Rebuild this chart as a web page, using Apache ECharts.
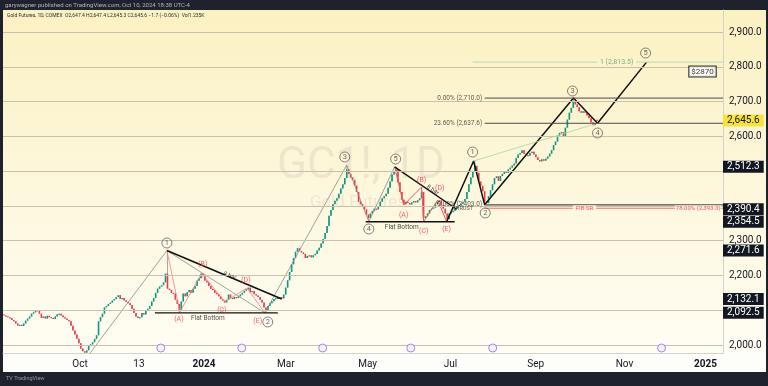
<!DOCTYPE html>
<html><head><meta charset="utf-8">
<script src="https://cdn.jsdelivr.net/npm/echarts@6/dist/echarts.min.js"></script>
<style>html,body{margin:0;padding:0;background:#1e222d;}#c{width:768px;height:386px;}</style>
</head><body><div id="c"></div>
<script>
// ---- data (bar index on x, price on y) ----
const closes = [
2088,2085,2083,2080,2078,2072,2068,2062,2056,2058,
2055,2062,2070,2076,2082,2090,2094,2100,2098,2090,
2078,2082,2076,2084,2080,2078,2075,2082,2088,2090,
2085,2080,2076,2072,2068,2055,2042,2030,2018,2005,
1990,1982,1978,1985,1998,2002,2008,2018,2028,2068,
2080,2090,2108,2112,2118,2122,2128,2132,2138,2143,
2132,2135,2128,2124,2120,2115,2104,2092,2082,2078,
2080,2092,2088,2098,2104,2112,2125,2135,2150,2162,
2168,2172,2180,2205,2162,2158,2150,2148,2130,2118,
2100,2125,2148,2140,2152,2158,2150,2162,2170,2185,
2192,2205,2198,2185,2180,2170,2162,2158,2150,2146,
2140,2132,2128,2122,2130,2145,2136,2132,2138,2135,
2140,2145,2150,2156,2160,2165,2152,2155,2146,2142,
2138,2130,2122,2108,2098,2112,2120,2126,2132,2135,
2136,2138,2134,2145,2165,2186,2210,2232,2250,2268,
2278,2270,2266,2262,2250,2256,2258,2252,2258,2262,
2272,2280,2292,2305,2322,2342,2372,2388,2405,2415,
2422,2435,2450,2462,2480,2505,2492,2482,2475,2458,
2440,2412,2405,2398,2390,2375,2365,2378,2385,2392,
2390,2398,2412,2422,2428,2435,2452,2470,2490,2500,
2505,2468,2440,2418,2405,2412,2408,2404,2410,2414,
2410,2416,2422,2440,2365,2370,2378,2388,2392,2395,
2405,2412,2416,2402,2392,2378,2362,2378,2382,2386,
2392,2398,2402,2406,2412,2420,2440,2462,2482,2500,
2515,2495,2470,2458,2442,2412,2408,2428,2445,2462,
2480,2485,2472,2486,2492,2500,2495,2505,2510,2516,
2522,2538,2548,2552,2560,2550,2546,2544,2552,2556,
2548,2540,2532,2528,2534,2530,2536,2542,2550,2560,
2575,2585,2602,2610,2612,2600,2625,2648,2668,2682,
2700,2692,2684,2672,2668,2672,2668,2660,2652,2640,
2632,2638,2645.6];
const spikeHighs = {84:2271.6, 175:2518, 200:2512.3, 213:2454, 240:2531, 290:2710};
const spikeLows = {42:1972, 90:2094, 134:2092.5, 186:2354.5, 214:2354.5, 226:2354.5, 245:2403};
const lastOpen = 2647.4;

const xTickPos = [39.6, 69.5, 102.5, 144.1, 185.6, 227.7, 270.9, 316.0, 357.1];
const xTickLabels = ['Oct','13','2024','Mar','May','Jul','Sep','Nov','2025'];
const xBold = ['2024','2025'];
const yGrid = [2000,2100,2200,2300,2400,2500,2600,2700,2800,2900];
const yLabels = [2000,2200,2300,2600,2700,2800,2900];
const blackPriceTags = [2512.3, 2390.4, 2354.5, 2271.6, 2132.1, 2092.5];
const lastPrice = 2645.6;

// drawings
const wave1Grey = [[43.6,1968.4],[83.7,2271.6]];
const channelGrey = [[83.7,2271.6],[133.4,2092.5]];
const waveUpGrey = [[133.4,2092.5],[175.0,2517.6],[186.2,2354.5],[199.3,2512.3]];
const triARed = [[83.7,2271.6],[90.3,2094.9],[101.4,2207],[113.1,2123.7],[124.3,2163.9],[133.4,2092.5]];
const triBRed = [[199.3,2512.3],[203.9,2402.6],[213.0,2454.3],[214.0,2354.5],[221.2,2417],[225.7,2354.5]];
const trendA = [[83.7,2271.6],[142.0,2132.1]];
const trendB = [[199.3,2512.3],[230.8,2390.4]];
const flatA = [[77.6,2092.5],[140.0,2092.5]];
const flatB = [[184.6,2354.5],[229.8,2354.5]];
const impulse = [[225.7,2354.5],[239.4,2529.1],[245.0,2403],[290.1,2710],[302.3,2637.6],[327.2,2813.5]];
const greenLine = [[239.4,2529.1],[302.3,2637.6]];
const fib0 = [[245,2710],[366,2710]];
const fib236 = [[245,2637.6],[366,2637.6]];
const fibExt = [[238.9,2813.5],[366,2813.5]];
const fib2403 = [[245,2403],[366,2403]];
const fibSR = [[245,2393.3],[366,2393.3]];

const waveCircles = [
 [83.7,2293.3,'1'],[134.9,2066.2,'2'],[174.0,2540.6,'3'],[186.2,2333.6,'4'],[199.8,2534.8,'5'],
 [238.9,2554.9,'1'],[245.3,2379.6,'2'],[289.6,2730.4,'3'],[302.3,2609.6,'4'],[326.7,2839.6,'5']];
const abcLabels = [
 [89.8,2074.8,'(A)'],[101.9,2232.9,'(B)'],[111.6,2100.7,'(C)'],[123.8,2186.9,'(D)'],[129.8,2069.1,'(E)'],
 [203.9,2373.8,'(A)'],[213.0,2474.5,'(B)'],[214.1,2327.8,'(C)'],[222.2,2451.5,'(D)'],[225.7,2333.6,'(E)']];
const eventIcons = [80.6,121.7,162.8,207.5,249.1,334.8];
const eventPrice = 1991.4;

// ---- build ----
const candles = closes.map((c,i)=>{
  let o = i===0 ? c : closes[i-1];
  if (i===closes.length-1) o = lastOpen;
  const h = spikeHighs[i] !== undefined ? spikeHighs[i] : Math.max(o,c);
  const l = spikeLows[i] !== undefined ? spikeLows[i] : Math.min(o,c);
  return [i,o,c,l,h];
});
const UP='#089981', DN='#f23645';
function renderCandle(params, api){
  const i=api.value(0), o=api.value(1), c=api.value(2), l=api.value(3), h=api.value(4);
  const pO=api.coord([i,o]), pC=api.coord([i,c]), pL=api.coord([i,l]), pH=api.coord([i,h]);
  const w=Math.max(1, api.size([1,0])[0]*0.8);
  const top=Math.min(pO[1],pC[1]), bot=Math.max(pO[1],pC[1]);
  const col = c>=o?UP:DN;
  return {type:'group', children:[
    {type:'line', shape:{x1:pO[0],y1:pH[1],x2:pO[0],y2:pL[1]}, style:{stroke:'#a8a8a0',lineWidth:1}},
    {type:'rect', shape:{x:pO[0]-w/2,y:top,width:w,height:Math.max(1.2,bot-top)}, style:{fill:col}}
  ]};
}
function ln(data,color,width,z){return {type:'line',data,symbol:'none',showSymbol:false,silent:true,clip:true,z:z||3,lineStyle:{color,width}};}
const fmtPrice = v => Number(v).toLocaleString('en-US',{minimumFractionDigits:1,maximumFractionDigits:1});

function txt(v,p,text,style){return {value:[v,p],label:Object.assign({show:true,formatter:text,position:'inside'},style)};}
const textItems = [
  txt(104.5,2077.7,'Flat Bottom',{fontSize:6.5,color:'#222'}),
  txt(202.9,2339.3,'Flat Bottom',{fontSize:6.5,color:'#222'}),
  txt(115.6,2198.4,'8 bar',{fontSize:6,color:'#222',rotate:-21}),
  txt(218.6,2445.7,'8 bar',{fontSize:6,color:'#222',rotate:-34}),
  txt(245,2710,'0.00% (2,710.0)',{position:'left',distance:2,fontSize:6.5,color:'#333'}),
  txt(245,2637.6,'23.60% (2,637.6)',{position:'left',distance:2,fontSize:6.5,color:'#333'}),
  txt(245,2403,'0.00% (2,403.0)',{position:'left',distance:2,fontSize:6.5,color:'#333'}),
  txt(233.8,2391,'THRUST',{fontSize:5.5,color:'#333'}),
  txt(312,2813.5,'1 (2,813.5)',{fontSize:7,color:'#5aa05a',backgroundColor:'#fcf5d0',padding:[0,3]}),
  txt(295.7,2393.3,'FIB SR',{fontSize:6,color:'#f23645',backgroundColor:'#fdf8e2',padding:[0,3]}),
  txt(366,2393.3,'78.00% (2,393.3)',{position:'left',distance:1,fontSize:6,color:'#f23645',backgroundColor:'#fdf8e2',padding:[0,1]}),
  txt(355.6,2786.4,'$2870',{fontSize:8,color:'#000',backgroundColor:'#fff',borderColor:'#000',borderWidth:1,padding:[1,2]})
];

function tag(v,bg,fg){return {yAxis:v,label:{show:true,position:'end',distance:0,formatter:fmtPrice(v),
  backgroundColor:bg,color:fg,fontSize:10,padding:[1,4],opacity:1}};}

const chart = echarts.init(document.getElementById('c'), null, {renderer:'canvas'});
chart.setOption({
  animation:false,
  backgroundColor:'#1e222d',
  textStyle:{fontFamily:'Roboto, "Liberation Sans", sans-serif'},
  grid:{left:3,right:45,top:10,bottom:33},
  graphic:[
    {type:'rect',z:-10,silent:true,shape:{x:3,y:10,width:763,height:343},
     style:{fill:new echarts.graphic.LinearGradient(0,0,0,1,[{offset:0,color:'#fbf1c2'},{offset:1,color:'#fffdf4'}])}},
    {type:'rect',z:-10,silent:true,shape:{x:3,y:353,width:763,height:19},style:{fill:'#fdfdfa'}},
    {type:'text',z:-5,silent:true,style:{x:361,y:167,text:'GC1!, 1D',fontSize:44,fontFamily:'Roboto',fill:'rgba(170,170,160,0.2)',align:'center',verticalAlign:'middle'}},
    {type:'text',z:-5,silent:true,style:{x:358,y:203,text:'Gold Futures',fontSize:17,fontFamily:'Roboto',fill:'rgba(170,170,160,0.2)',align:'center',verticalAlign:'middle'}},
    {type:'text',z:20,silent:true,style:{x:5,y:5,text:'garywagner published on TradingView.com, Oct 10, 2024 18:38 UTC-4',fontSize:6,fontFamily:'Roboto',fill:'#b2b5be',verticalAlign:'middle'}},
    {type:'text',z:20,silent:true,style:{x:7,y:16,text:'Gold Futures, 1D, COMEX  O2,647.4 H2,647.4 L2,645.3 C2,645.6 \u22121.7 (\u22120.06%)  Vol1.235K',fontSize:5,fontFamily:'Roboto',fill:'#2a2e39',verticalAlign:'middle'}},
    {type:'text',z:20,silent:true,style:{x:6,y:379,text:'TV TradingView',fontSize:5.5,fontFamily:'Roboto',fill:'#9598a1',verticalAlign:'middle'}}
  ],
  xAxis:{type:'value',min:0.5,max:366,
    axisLine:{show:true,lineStyle:{color:'#d4d4cc'}},axisTick:{show:false},splitLine:{show:false},
    axisLabel:{customValues:xTickPos,margin:6,fontSize:10,color:'#131722',
      formatter:(v)=>{let k=0,b=1e9;xTickPos.forEach((p,j)=>{if(Math.abs(p-v)<b){b=Math.abs(p-v);k=j;}});const t=xTickLabels[k];return xBold.includes(t)?'{b|'+t+'}':t;},
      rich:{b:{fontWeight:'bold',fontSize:10,color:'#131722'}}}},
  yAxis:{type:'value',position:'right',min:1977,max:2963.3,
    axisLine:{show:true,lineStyle:{color:'#d4d4cc'}},axisTick:{show:false},splitLine:{show:false},
    axisLabel:{customValues:yLabels,margin:6,fontSize:10,color:'#131722',formatter:fmtPrice}},
  series:[
    {type:'line',data:[[0,2500]],symbol:'none',lineStyle:{width:0},silent:true,z:1,
     markLine:{silent:true,symbol:'none',animation:false,label:{show:false},
       lineStyle:{color:'#c6c2ad',width:1,type:'solid'},
       data:yGrid.map(v=>({yAxis:v}))}},
    {type:'custom',renderItem:renderCandle,data:candles,clip:true,z:2,encode:{x:0,y:[1,2,3,4]}},
    ln(wave1Grey,'#8a8a88',0.8), ln(channelGrey,'#8a8a88',0.8), ln(waveUpGrey,'#8a8a88',0.8),
    ln(triARed,'#f47c7c',0.8), ln(triBRed,'#f05a5a',1),
    ln(trendA,'#111',1.6), ln(trendB,'#111',1.4), ln(flatA,'#111',1.4), ln(flatB,'#111',1.4),
    ln(impulse,'#111',1.5), ln(greenLine,'#a8d5a0',0.8),
    ln(fib0,'#4a4a4a',1), ln(fib236,'#4a4a4a',1), ln(fibExt,'#b5dbb0',1), ln(fib2403,'#4a4a4a',1.2), ln(fibSR,'#f26d6d',1),
    {type:'scatter',z:5,silent:true,symbol:'circle',symbolSize:10,
     itemStyle:{color:'rgba(255,255,255,0)',borderColor:'#555',borderWidth:0.9},
     label:{show:true,position:'inside',fontSize:7.5,color:'#444',formatter:p=>p.value[2]},
     data:waveCircles},
    {type:'scatter',z:5,silent:true,symbolSize:1,itemStyle:{color:'rgba(0,0,0,0)'},
     label:{show:true,position:'inside',fontSize:7,color:'#f23645',formatter:p=>p.value[2]},
     data:abcLabels},
    {type:'scatter',z:6,silent:true,symbolSize:1,itemStyle:{color:'rgba(0,0,0,0)'},data:textItems},
    {type:'scatter',z:5,silent:true,symbol:'circle',symbolSize:8,
     itemStyle:{color:'#f3efff',borderColor:'#8c6cf0',borderWidth:1},
     data:eventIcons.map(v=>[v,eventPrice])},
    {type:'line',data:[[0,2500]],symbol:'none',lineStyle:{width:0},silent:true,z:8,
     markLine:{silent:true,symbol:'none',animation:false,lineStyle:{color:'rgba(0,0,0,0)',width:1},
       data:blackPriceTags.map(v=>tag(v,'#131722','#ffffff')).concat([tag(lastPrice,'#f7e33c','#131722')])}}
  ]
});
</script></body></html>
